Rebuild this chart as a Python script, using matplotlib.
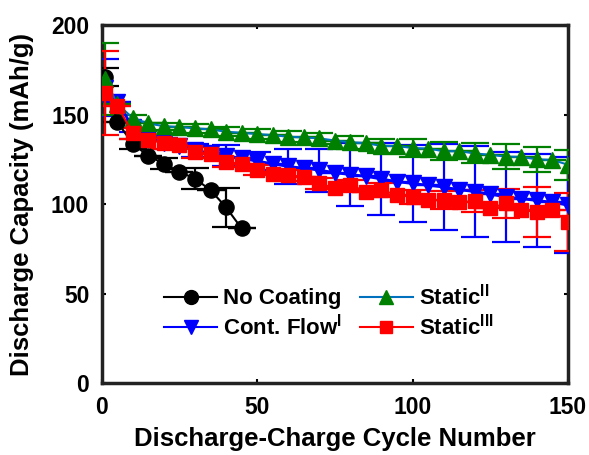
import numpy as np
import matplotlib
matplotlib.use("Agg")
import matplotlib.pyplot as plt
from matplotlib.lines import Line2D

plt.rcParams['font.family'] = ['Liberation Sans', 'DejaVu Sans']
plt.rcParams['font.weight'] = 'bold'
plt.rcParams['mathtext.fontset'] = 'custom'
plt.rcParams['mathtext.rm'] = 'Liberation Sans:bold'
plt.rcParams['mathtext.bf'] = 'Liberation Sans:bold'

# ---- data ----
cycles = [1] + list(range(5, 151, 5))
cycles_nc = [1, 5, 10, 15, 20, 25, 30, 35, 40, 45]

no_coating = [171, 146, 133.5, 127, 122.5, 118, 114.2, 107.8, 98.2, 86.4]
no_coating_err = [5, 0, 3, 0, 3, 0, 6, 0, 11, 0]

cont_flow = [165, 157, 143, 137, 134, 132.5, 130, 128.5, 127, 125.5, 124, 122.5,
             121, 120, 119, 117.5, 116.5, 115.5, 114, 112.5, 111.5, 110.5, 109.5,
             108, 107, 105.5, 104, 103, 102, 101, 99.4]
cont_flow_err = [16, 0, 3, 0, 3, 0, 3.5, 0, 6, 0, 5, 0, 10, 0, 12, 0, 17.5, 0,
                 20, 0, 21.5, 0, 24, 0, 25.5, 0, 25, 0, 26, 0, 27]

static2 = [170, 156, 148, 145, 143.5, 143, 142.3, 141.7, 140.4, 139.8, 139.1,
           138.5, 137.6, 137.2, 136.7, 135.5, 134.5, 134, 132.5, 132.4, 131.3,
           131, 129.5, 129.5, 128.3, 127.5, 126.5, 126.3, 125, 124.6, 122]
static2_err = [20, 0, 2, 0, 2, 0, 2.5, 0, 2.5, 0, 3, 0, 3, 0, 3, 0, 3.5, 0,
               4, 0, 5, 0, 5, 0, 5.6, 0, 7, 0, 7, 0, 8.4]

static3 = [162, 155, 139.5, 136, 134, 133, 129, 128, 123.5, 122.5, 119, 117,
           116, 115.3, 111.6, 108.8, 110.6, 107, 107.8, 105, 104, 102.2, 102.2,
           101, 101.6, 97.6, 100.4, 96.6, 95.7, 96.6, 90]
static3_err = [23.5, 0, 3, 0, 3, 0, 3, 0, 3, 0, 3, 0, 3, 0, 3, 0, 3, 0,
               4, 0, 4, 0, 5, 0, 6, 0, 8, 0, 14, 0, 16]

labels = ['No Coating', r'Cont. Flow$^{\mathbf{I}}$', r'Static$^{\mathbf{II}}$',
          r'Static$^{\mathbf{III}}$']
x_ticks = [0, 50, 100, 150]
y_ticks = [0, 50, 100, 150, 200]

# ---- plot ----
fig = plt.figure(figsize=(5.89, 4.55), dpi=100)
ax = fig.add_axes([0.1727, 0.158, 0.7916, 0.787])

ms = 11.5
cap = 10
elw = 1.6

ax.errorbar(cycles_nc, no_coating, yerr=no_coating_err, color='black',
            marker='o', ms=ms * 0.95, lw=1.5, elinewidth=elw, capsize=cap,
            capthick=elw, zorder=3)
ax.errorbar(cycles, cont_flow, yerr=cont_flow_err, color='blue',
            marker='v', ms=ms, lw=2, elinewidth=elw, capsize=cap,
            capthick=elw, zorder=3)
ax.errorbar(cycles, static2, yerr=static2_err, color='#0072BD',
            ecolor='green', mfc='green', mec='green',
            marker='^', ms=ms, lw=1.5, elinewidth=elw, capsize=cap,
            capthick=elw, zorder=3)
ax.errorbar(cycles, static3, yerr=static3_err, color='red',
            marker='s', ms=ms * 0.85, lw=1.5, elinewidth=elw, capsize=cap,
            capthick=elw, zorder=3)

ax.set_xlim(0, 150)
ax.set_ylim(0, 200)
ax.set_xticks(x_ticks)
ax.set_yticks(y_ticks)
ax.tick_params(direction='in', length=3, width=1.5, top=True, right=True,
               labelsize=16.5)
ax.tick_params(axis='y', pad=9)
ax.tick_params(axis='x', pad=9)
for s in ax.spines.values():
    s.set_linewidth(2.5)
    s.set_color('#222222')
ax.set_xlabel('Discharge-Charge Cycle Number', fontsize=18.5, fontweight='bold',
              labelpad=6)
ax.set_ylabel('Discharge Capacity (mAh/g)', fontsize=18.5, fontweight='bold',
              labelpad=12)

handles = [
    Line2D([], [], color='black', marker='o', ms=10, lw=1.5),
    Line2D([], [], color='blue', marker='v', ms=10, lw=1.5),
    Line2D([], [], color='#0072BD', marker='^', mfc='green', mec='green', ms=10, lw=1.5),
    Line2D([], [], color='red', marker='s', ms=8.5, lw=1.5),
]
leg = ax.legend(handles, labels, ncol=2, frameon=False, loc='lower left',
                bbox_to_anchor=(0.1, 0.078), fontsize=16, handlelength=2.4,
                handletextpad=0.25, columnspacing=0.8, labelspacing=0.2,
                borderpad=0.2)

fig.savefig('out.png', dpi=100)
